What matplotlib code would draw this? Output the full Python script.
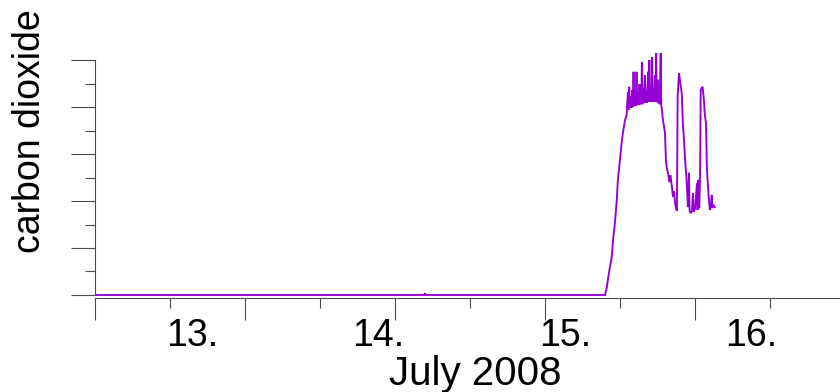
import matplotlib
matplotlib.use("Agg")
import matplotlib.pyplot as plt
import numpy as np

plt.rcParams['font.family'] = ['Liberation Sans', 'DejaVu Sans']

# time in days of July 2008 (fractional), CO2 in arbitrary units
days = [12.98, 14.745, 14.749, 14.753, 15.716,
        15.725, 15.737, 15.752, 15.759, 15.769, 15.779, 15.785, 15.796, 15.805,
        15.812, 15.823, 15.832,
        15.834, 15.839, 15.842, 15.846, 15.849, 15.855, 15.858, 15.863, 15.866,
        15.869, 15.872, 15.878, 15.881, 15.885, 15.889, 15.894, 15.897, 15.901,
        15.905, 15.909, 15.911, 15.914, 15.917, 15.922, 15.925, 15.930, 15.934,
        15.938, 15.941, 15.947, 15.950, 15.954, 15.957, 15.962, 15.965, 15.969,
        15.972, 15.977, 15.980, 15.984, 15.987, 15.991, 15.994, 15.998, 16.001,
        16.006, 16.009, 16.015, 16.018, 16.022,
        16.025, 16.038, 16.043, 16.047, 16.054, 16.062, 16.067, 16.074, 16.081,
        16.086, 16.092, 16.097, 16.102,
        16.106, 16.113, 16.118, 16.128, 16.134, 16.140, 16.145, 16.154, 16.161,
        16.167, 16.170, 16.175, 16.183, 16.188, 16.191, 16.199, 16.210, 16.213,
        16.217, 16.222, 16.226,
        16.230, 16.235, 16.240, 16.247, 16.252, 16.258, 16.263, 16.269, 16.274,
        16.279, 16.285, 16.289, 16.292, 16.298, 16.306]
co2 = [0, 0, 4, 0, 0,
       15, 47, 81, 117, 153, 202, 245, 287, 323,
       345, 372, 383,
       398, 432, 394, 443, 398, 423, 398, 436, 400,
       475, 402, 432, 402, 475, 404, 430, 404, 449,
       406, 432, 406, 496, 406, 440, 409, 468, 409,
       436, 409, 475, 411, 500, 411, 447, 411, 506,
       411, 440, 411, 468, 411, 515, 411, 458, 409,
       440, 406, 515, 404, 394,
       379, 345, 287, 272, 260, 240, 255, 234, 209,
       221, 196, 185, 179,
       421, 472, 458, 430, 366, 330, 294, 245, 187,
       260, 181, 174, 179, 217, 177, 183, 238, 181,
       245, 185, 245,
       436, 440, 443, 415, 383, 366, 272, 230, 203,
       181, 189, 213, 185, 192, 187]

day_labels = ["13.", "14.", "15.", "16."]
day_label_pos = [13.5, 14.5, 15.5, 16.5]
x_label = "July 2008"
y_label = "carbon dioxide"

W, H = 840, 392
fig = plt.figure(figsize=(W / 100, H / 100), dpi=100)
ax_left, ax_right, ax_bottom, ax_top = 94.7, 840, 298, 40
ax = fig.add_axes([ax_left / W, (H - ax_bottom) / H,
                   (ax_right - ax_left) / W, (ax_bottom - ax_top) / H])

ax.plot(days, co2, color='#9400d3', lw=1.35, solid_joinstyle='miter')

ax.set_xlim(12.975, 16.978)
ax.set_ylim(-6.4, 542.6)

axis_col = '#4a4a4a'
for s in ['top', 'right']:
    ax.spines[s].set_visible(False)
for s in ['left', 'bottom']:
    ax.spines[s].set_color(axis_col)
    ax.spines[s].set_linewidth(0.8)
ax.spines['left'].set_bounds(0, 500)

step = 0.4029
ticks = 12.975 + step * np.arange(10)
ax.set_xticks(ticks[::2])
ax.set_xticks(ticks[1::2], minor=True)
ax.set_xticklabels([])
ax.set_yticks(np.arange(0, 501, 100))
ax.set_yticks(np.arange(50, 500, 100), minor=True)
ax.set_yticklabels([])
ax.tick_params(axis='x', which='major', length=16, width=0.8, color=axis_col, direction='out')
ax.tick_params(axis='x', which='minor', length=7.3, width=0.8, color=axis_col, direction='out')
ax.tick_params(axis='y', which='major', length=17, width=0.8, color=axis_col, direction='out')
ax.tick_params(axis='y', which='minor', length=7.3, width=0.8, color=axis_col, direction='out')

fs = 27
for lab, pos in zip(day_labels, day_label_pos):
    ax.text(pos, -48 / 258, lab, transform=ax.get_xaxis_transform(),
            ha='center', va='baseline', fontsize=fs, color='black')

ax.set_xlabel(x_label, fontsize=29, va='baseline')
ax.xaxis.set_label_coords((475.5 - ax_left) / (ax_right - ax_left), -87 / 258)
ax.set_ylabel(y_label, fontsize=fs, va='center')
ax.yaxis.set_label_coords((30 - ax_left) / (ax_right - ax_left), (298 - 131) / 258)

fig.savefig("out.png", dpi=100)
